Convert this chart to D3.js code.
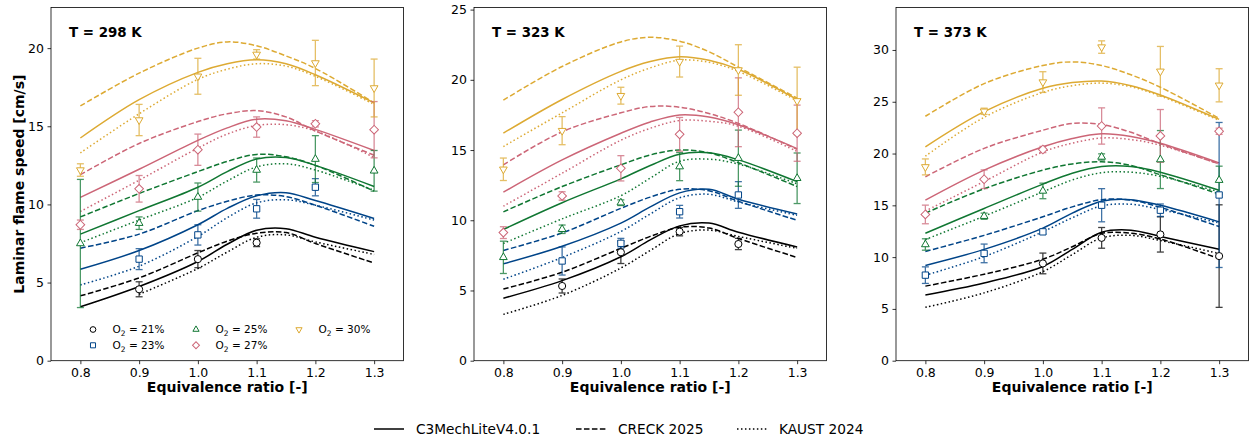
<!DOCTYPE html>
<html>
<head>
<meta charset="utf-8">
<script src="https://cdn.jsdelivr.net/npm/d3@7"></script>
<style>
  body { margin: 0; background: #fff; }
  svg { font-family: "DejaVu Sans", sans-serif; }
</style>
</head>
<body>
<svg width="1251" height="442"></svg>
<script>
var phiSim = [0.8, 0.9, 1.0, 1.05, 1.1, 1.15, 1.2, 1.3];
var phiExp = [0.8, 0.9, 1.0, 1.1, 1.2, 1.3];
var o2Levels = ["21", "23", "25", "27", "30"];
var temps = ["298", "323", "373"];
var mechNames = ["C3MechLiteV4.0.1", "CRECK 2025", "KAUST 2024"];
var o2Colors = ["#000000", "#004488", "#117733", "#CC6677", "#DDAA33"];
var yMaxes = [22.6, 25.15, 34.1];

// simulated flame speeds, rows = O2 21/23/25/27/30 %
var c3mech298 = [
  [3.45, 4.75, 6.35, 7.45, 8.35, 8.45, 7.9, 6.98],
  [5.85, 7.05, 8.7, 9.75, 10.55, 10.75, 10.25, 9.1],
  [8.1, 9.6, 11.1, 12.1, 12.9, 13.0, 12.5, 11.15],
  [10.45, 12.25, 14.1, 14.9, 15.45, 15.35, 14.8, 13.45],
  [14.25, 16.7, 18.45, 19.0, 19.25, 19.0, 18.3, 16.5]
];
var creck298 = [
  [4.15, 5.3, 6.9, 7.65, 8.15, 8.2, 7.5, 6.25],
  [7.2, 8.1, 9.6, 10.2, 10.6, 10.5, 9.95, 8.6],
  [9.2, 10.7, 12.1, 12.75, 13.2, 13.05, 12.5, 10.85],
  [11.9, 13.9, 15.3, 15.8, 16.0, 15.6, 14.7, 13.15],
  [16.3, 18.4, 20.0, 20.4, 20.15, 19.5, 18.7, 16.5]
];
var kaust298 = [
  [null, 4.25, 5.9, 6.95, 7.9, 8.05, 7.6, 6.8],
  [4.85, 6.05, 7.95, 9.15, 10.1, 10.3, 9.95, 9.0],
  [7.55, 9.0, 10.45, 11.5, 12.4, 12.6, 12.2, 10.9],
  [9.55, 11.55, 13.6, 14.5, 15.05, 15.1, 14.7, 13.0],
  [13.3, 15.8, 18.0, 18.65, 19.0, 18.85, 18.2, 16.4]
];

var c3mech323 = [
  [4.45, 5.7, 7.4, 8.6, 9.6, 9.8, 9.15, 8.1],
  [6.9, 8.15, 9.8, 10.95, 11.95, 12.2, 11.5, 10.45],
  [9.35, 11.25, 12.95, 13.9, 14.7, 14.8, 14.3, 12.75],
  [12.0, 14.3, 16.2, 17.0, 17.5, 17.35, 16.8, 15.1],
  [16.2, 18.6, 20.6, 21.3, 21.65, 21.4, 20.75, 18.6]
];
var creck323 = [
  [5.1, 6.3, 8.0, 8.85, 9.5, 9.45, 8.7, 7.35],
  [7.85, 9.1, 10.85, 11.65, 12.2, 12.1, 11.35, 10.0],
  [10.6, 12.4, 13.95, 14.65, 15.0, 14.8, 14.1, 12.4],
  [13.95, 16.3, 17.65, 18.1, 18.05, 17.6, 16.9, 15.05],
  [18.55, 20.95, 22.7, 23.03, 22.75, 22.0, 20.9, 18.7]
];
var kaust323 = [
  [3.3, 4.65, 6.6, 7.85, 9.05, 9.3, 8.85, 8.0],
  [5.8, 7.35, 9.2, 10.45, 11.6, 11.85, 11.3, 10.35],
  [8.35, 10.1, 11.75, 13.0, 14.2, 14.35, 14.0, 12.6],
  [11.0, 13.35, 15.7, 16.55, 17.1, 17.05, 16.7, 14.9],
  [15.25, 17.65, 20.0, 20.85, 21.4, 21.25, 20.6, 18.5]
];

var c3mech373 = [
  [6.35, 7.5, 9.1, 10.75, 12.4, 12.6, 12.0, 10.75],
  [9.2, 10.75, 12.8, 14.25, 15.4, 15.55, 15.0, 13.4],
  [12.3, 14.7, 17.05, 18.1, 18.75, 18.75, 18.2, 16.45],
  [15.5, 18.4, 20.65, 21.45, 21.9, 21.65, 21.0, 19.1],
  [20.65, 24.05, 26.3, 26.85, 27.0, 26.55, 25.65, 23.3]
];
var creck373 = [
  [7.2, 8.35, 9.8, 11.0, 12.3, 12.3, 11.75, 9.85],
  [10.55, 12.1, 13.9, 14.85, 15.55, 15.5, 14.8, 12.95],
  [14.25, 16.6, 18.4, 19.0, 19.2, 18.85, 17.95, 16.1],
  [17.75, 20.5, 22.25, 22.9, 22.8, 22.05, 20.95, 19.0],
  [23.6, 26.75, 28.5, 28.85, 28.5, 27.6, 26.4, 23.4]
];
var kaust373 = [
  [5.15, 6.55, 8.6, 10.25, 11.85, 12.1, 11.6, 10.35],
  [8.25, 10.05, 12.45, 13.8, 14.95, 15.1, 14.6, 13.3],
  [11.7, 13.95, 16.3, 17.45, 18.15, 18.2, 17.8, 16.3],
  [14.45, 17.3, 20.15, 21.0, 21.5, 21.35, 20.8, 19.0],
  [19.75, 23.5, 25.9, 26.55, 26.8, 26.45, 25.55, 23.2]
];

// measurements and their error bars
var exp298 = [
  [null, 4.57, 6.5, 7.55, null, null],
  [null, 6.5, 8.05, 9.72, 11.1, null],
  [7.5, 8.8, 10.47, 12.2, 12.9, 12.15],
  [8.7, 11.0, 13.5, 14.95, 15.16, 14.78],
  [12.2, 15.4, 18.2, 19.6, 19.05, 17.45]
];
var err298 = [
  [null, 0.48, 0.55, 0.25, null, null],
  [null, 0.67, 0.65, 0.6, 0.55, null],
  [4.1, 0.4, 0.9, 0.77, 1.5, 1.3],
  [0.3, 0.85, 1.0, 0.65, 0.2, 1.8],
  [0.4, 1.0, 1.15, 0.3, 1.45, 1.85]
];
var exp323 = [
  [null, 5.32, 7.72, 9.19, 8.31, null],
  [null, 7.1, 8.36, 10.61, 11.8, null],
  [7.36, 9.36, 11.25, 13.82, 14.42, 12.99],
  [9.12, 11.73, 13.7, 16.12, 17.69, 16.2],
  [13.63, 16.38, 18.87, 21.3, 20.7, 18.5]
];
var err323 = [
  [null, 0.5, 0.8, 0.3, 0.4, null],
  [null, 1.0, 0.35, 0.45, 0.95, null],
  [1.15, 0.3, 0.2, 1.0, 2.0, 1.8],
  [0.42, 0.3, 0.9, 1.2, 2.45, 2.0],
  [0.8, 1.0, 0.6, 1.1, 1.8, 2.4]
];
var exp373 = [
  [null, null, 9.39, 11.86, 12.19, 10.1],
  [8.26, 10.36, 12.44, 15.01, 14.53, 16.0],
  [11.22, 13.95, 16.39, 19.67, 19.42, 17.43],
  [14.12, 17.52, 20.39, 22.66, 21.7, 22.15],
  [18.71, 24.08, 26.9, 30.28, 27.94, 26.59]
];
var err373 = [
  [null, null, 1.0, 1.0, 1.7, 4.95],
  [0.8, 0.9, 0.2, 1.6, 0.6, 7.0],
  [0.55, 0.3, 0.75, 0.3, 2.8, 1.35],
  [0.9, 0.9, 0.3, 1.75, 2.55, 0.3],
  [0.77, 0.3, 1.0, 0.6, 2.4, 1.6]
];

var simSets = [[c3mech298, creck298, kaust298], [c3mech323, creck323, kaust323], [c3mech373, creck373, kaust373]];
var expSets = [exp298, exp323, exp373];
var errSets = [err298, err323, err373];

var svg = d3.select("svg");
var panelLeft = [51, 474, 896];
var panelWidth = 352.5;
var plotTop = 7.5, plotBottom = 360.7;
var dashes = [null, "5.55,2.4", "1.5,2.475"];

// 0 circle, 1 square, 2 triangle up, 3 diamond, 4 triangle down
function markerPath(kind, k) {
  if (kind == 0) return d3.symbol(d3.symbolCircle, 40 * k * k)();
  if (kind == 1) return d3.symbol(d3.symbolSquare, 40 * k * k)();
  if (kind == 2 || kind == 4) return d3.symbol(d3.symbolTriangle, 26 * k * k)();
  return d3.symbol(d3.symbolSquare, 38 * k * k)();
}
function markerRotate(kind) {
  if (kind == 3) return 45;
  if (kind == 4) return 180;
  return 0;
}

function drawPanel(p) {
  var x = d3.scaleLinear().domain([0.75, 1.35]).range([panelLeft[p], panelLeft[p] + panelWidth]);
  var y = d3.scaleLinear().domain([0, yMaxes[p]]).range([plotBottom, plotTop]);
  var g = svg.append("g");

  g.append("g")
    .attr("transform", "translate(0," + plotBottom + ")")
    .call(d3.axisBottom(x).tickValues([0.8, 0.9, 1.0, 1.1, 1.2, 1.3]).tickFormat(d3.format(".1f")).tickSize(3.5).tickPadding(3.5))
    .call(function (a) {
      a.select(".domain").remove();
      a.selectAll("line").attr("stroke-width", 0.8);
      a.selectAll("text").attr("font-size", "12.5px").attr("font-family", "DejaVu Sans").attr("fill", "#000");
    });

  g.append("g")
    .attr("transform", "translate(" + panelLeft[p] + ",0)")
    .call(d3.axisLeft(y).tickValues(d3.range(0, yMaxes[p], 5)).tickFormat(d3.format("d")).tickSize(3.5).tickPadding(3.5))
    .call(function (a) {
      a.select(".domain").remove();
      a.selectAll("line").attr("stroke-width", 0.8);
      a.selectAll("text").attr("font-size", "12.5px").attr("font-family", "DejaVu Sans").attr("fill", "#000");
    });

  var line = d3.line()
    .defined(function (d) { return d[1] != null; })
    .x(function (d) { return x(d[0]); })
    .y(function (d) { return y(d[1]); })
    .curve(d3.curveCatmullRom.alpha(0.5));

  var clip = "clip" + p;
  g.append("clipPath").attr("id", clip).append("rect")
    .attr("x", panelLeft[p]).attr("y", plotTop).attr("width", panelWidth).attr("height", plotBottom - plotTop);

  var plot = g.append("g").attr("clip-path", "url(#" + clip + ")");

  simSets[p].forEach(function (mech, m) {
    mech.forEach(function (vals, o) {
      plot.append("path")
        .datum(phiSim.map(function (f, i) { return [f, vals[i]]; }))
        .attr("d", line)
        .attr("fill", "none")
        .attr("stroke", o2Colors[o])
        .attr("stroke-width", 1.5)
        .attr("stroke-dasharray", dashes[m]);
    });
  });

  var exp = expSets[p], err = errSets[p];
  exp.forEach(function (vals, o) {
    var pts = phiExp.map(function (f, i) { return { f: f, v: vals[i], e: err[o][i] }; })
      .filter(function (d) { return d.v != null; });
    var eb = plot.append("g").attr("stroke", o2Colors[o]).attr("stroke-width", 1.3).attr("opacity", 0.75);
    pts.forEach(function (d) {
      var cx = x(d.f);
      eb.append("line").attr("x1", cx).attr("x2", cx).attr("y1", y(d.v - d.e)).attr("y2", y(d.v + d.e));
      eb.append("line").attr("x1", cx - 3.5).attr("x2", cx + 3.5).attr("y1", y(d.v - d.e)).attr("y2", y(d.v - d.e));
      eb.append("line").attr("x1", cx - 3.5).attr("x2", cx + 3.5).attr("y1", y(d.v + d.e)).attr("y2", y(d.v + d.e));
    });
  });
  exp.forEach(function (vals, o) {
    var pts = phiExp.map(function (f, i) { return { f: f, v: vals[i] }; })
      .filter(function (d) { return d.v != null; });
    plot.append("g").selectAll("path")
      .data(pts)
      .enter().append("path")
      .attr("d", markerPath(o, 1))
      .attr("transform", function (d) { return "translate(" + x(d.f) + "," + y(d.v) + ") rotate(" + markerRotate(o) + ")"; })
      .attr("fill", "#fff")
      .attr("stroke", o2Colors[o])
      .attr("stroke-width", 1);
  });

  g.append("rect")
    .attr("x", panelLeft[p]).attr("y", plotTop).attr("width", panelWidth).attr("height", plotBottom - plotTop)
    .attr("fill", "none").attr("stroke", "#000").attr("stroke-width", 0.8);

  g.append("text")
    .attr("x", panelLeft[p] + 18).attr("y", 36.5)
    .attr("font-size", "13.4px").attr("font-weight", "bold")
    .text("T = " + temps[p] + " K");

  g.append("text")
    .attr("x", panelLeft[p] + panelWidth / 2).attr("y", 392)
    .attr("text-anchor", "middle")
    .attr("font-size", "14px").attr("font-weight", "bold")
    .text("Equivalence ratio [-]");
}

for (var p = 0; p < 3; p++) drawPanel(p);

svg.append("text")
  .attr("transform", "translate(24," + (plotTop + plotBottom) / 2 + ") rotate(-90)")
  .attr("text-anchor", "middle")
  .attr("font-size", "14px").attr("font-weight", "bold")
  .text("Laminar flame speed [cm/s]");

// O2 legend in the first panel, column by column
var legendPos = [[93, 329.5], [93, 345.3], [196, 329.5], [196, 345.3], [299, 329.5]];
o2Levels.forEach(function (lv, o) {
  var lg = svg.append("g").attr("transform", "translate(" + legendPos[o][0] + "," + legendPos[o][1] + ")");
  lg.append("path")
    .attr("d", markerPath(o, 0.8))
    .attr("transform", "rotate(" + markerRotate(o) + ")")
    .attr("fill", "#fff").attr("stroke", o2Colors[o]).attr("stroke-width", 1);
  var t = lg.append("text").attr("x", 19.5).attr("y", 3.8).attr("font-size", "10.5px");
  t.append("tspan").text("O");
  t.append("tspan").attr("dy", 2.5).attr("font-size", "7.5px").text("2");
  t.append("tspan").attr("dy", -2.5).text(" = " + lv + "%");
});

// mechanism legend at the bottom
var mechX = [374, 576, 737];
mechNames.forEach(function (name, m) {
  svg.append("line")
    .attr("x1", mechX[m]).attr("x2", mechX[m] + 30).attr("y1", 429).attr("y2", 429)
    .attr("stroke", "#000").attr("stroke-width", 1.5).attr("stroke-dasharray", dashes[m]);
  svg.append("text")
    .attr("x", mechX[m] + 42).attr("y", 434)
    .attr("font-size", "13.7px")
    .text(name);
});
</script>
</body>
</html>
